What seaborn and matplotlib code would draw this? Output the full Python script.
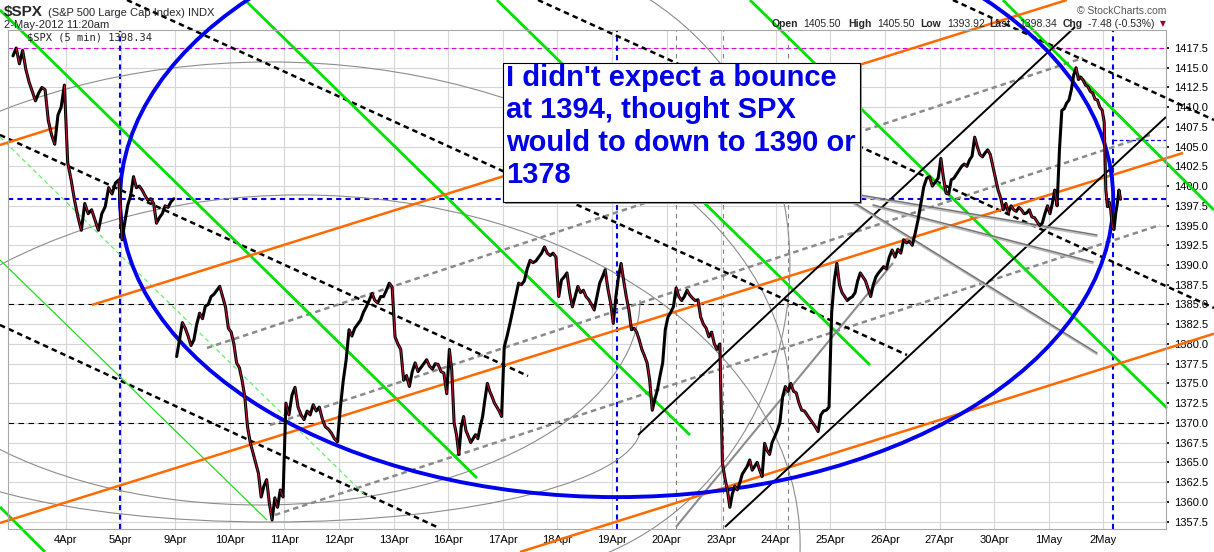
import numpy as np
import pandas as pd
import matplotlib
matplotlib.use("Agg")
import matplotlib.pyplot as plt
import matplotlib.transforms as mtransforms
from matplotlib.patches import Ellipse, Arc, Rectangle
from matplotlib.collections import LineCollection
import seaborn as sns

# ---------------- price data (5-min closes, one list per session)
d_apr03 = [1416.5, 1417.5, 1415.5, 1417.2, 1414.8, 1413.2, 1412.0, 1410.8, 1411.8, 1412.5,
           1412.2, 1408.3, 1406.5, 1405.3, 1409.0, 1410.0, 1412.8]
d_apr04 = [1403.0, 1400.8, 1398.2, 1396.1, 1394.4, 1397.8, 1396.5, 1397.0, 1395.7, 1394.4,
           1396.5, 1397.4, 1399.8, 1399.0, 1400.4, 1400.8]
d_apr05 = [1393.2, 1395.5, 1397.6, 1398.8, 1401.2, 1399.8, 1400.0, 1399.5, 1398.8, 1398.2,
           1398.4, 1397.8, 1395.3, 1396.0, 1396.5, 1397.5, 1397.3, 1398.0, 1398.4]
d_apr09 = [1378.4, 1380.5, 1382.7, 1382.0, 1381.0, 1379.8, 1380.5, 1382.5, 1383.9, 1383.2,
           1384.8, 1385.0, 1386.0, 1386.3, 1386.8, 1387.3, 1386.0, 1384.7, 1382.0]
d_apr10 = [1381.5, 1380.0, 1377.6, 1377.0, 1375.4, 1373.3, 1369.5, 1367.5, 1366.2, 1364.9,
           1363.6, 1360.6, 1362.0, 1362.8, 1359.8, 1357.7, 1360.5, 1359.3, 1361.5, 1360.6]
d_apr11 = [1372.5, 1371.0, 1373.5, 1374.5, 1372.0, 1371.0, 1370.4, 1371.5, 1371.0, 1372.3,
           1371.5, 1372.0, 1370.5, 1369.5, 1369.2, 1368.7, 1368.0, 1367.6]
d_apr12 = [1372.0, 1375.4, 1378.0, 1381.8, 1381.0, 1382.0, 1382.5, 1383.0, 1384.0, 1384.7,
           1385.5, 1386.4, 1385.5, 1385.2, 1386.0, 1386.0, 1386.8, 1387.7, 1387.2]
d_apr13 = [1380.9, 1380.0, 1379.3, 1375.4, 1376.0, 1374.6, 1376.5, 1377.6, 1376.5, 1377.0,
           1377.5, 1378.0, 1377.2, 1376.8, 1377.5, 1377.4, 1376.5, 1376.3, 1373.7]
d_apr16 = [1379.3, 1376.7, 1370.0, 1368.5, 1366.0, 1369.5, 1370.8, 1369.0, 1368.3, 1367.5,
           1368.0, 1368.5, 1368.0, 1369.5, 1370.8, 1373.0, 1375.0, 1374.0, 1373.3, 1372.5,
           1372.0, 1371.5, 1370.8]
d_apr17 = [1379.6, 1381.0, 1382.6, 1384.3, 1386.0, 1387.7, 1387.5, 1388.0, 1389.5, 1390.6,
           1390.3, 1390.5, 1391.0, 1391.5, 1392.3, 1391.5, 1391.2, 1391.5, 1391.0]
d_apr18 = [1386.0, 1388.1, 1388.5, 1389.0, 1386.5, 1384.7, 1386.0, 1387.3, 1386.5, 1386.8,
           1386.0, 1385.6, 1385.0, 1384.3, 1386.0, 1387.7, 1388.5, 1389.4, 1387.0, 1385.2]
d_apr19 = [1382.6, 1386.0, 1388.5, 1390.2, 1388.0, 1386.0, 1384.3, 1381.8, 1382.0, 1381.5,
           1380.5, 1379.3, 1378.5, 1377.6, 1375.4, 1371.6, 1373.0, 1374.2, 1376.0, 1377.6,
           1381.8]
d_apr20 = [1383.4, 1384.0, 1384.7, 1387.1, 1386.0, 1385.5, 1386.0, 1386.8, 1386.2, 1385.8,
           1385.5, 1385.6, 1383.4, 1382.5, 1382.0, 1380.9, 1381.5, 1380.0, 1379.3, 1380.0]
d_apr23 = [1364.9, 1363.0, 1361.5, 1359.3, 1361.0, 1362.0, 1361.5, 1362.4, 1363.5, 1364.0,
           1364.5, 1365.3, 1364.0, 1364.5, 1365.0, 1364.0, 1363.2, 1367.4, 1366.5, 1366.0,
           1367.5, 1368.2]
d_apr24 = [1369.0, 1370.0, 1373.3, 1374.6, 1374.0, 1375.0, 1374.0, 1373.8, 1372.5, 1371.6,
           1371.5, 1371.0, 1370.5, 1370.0, 1369.5, 1368.9, 1371.0, 1371.5, 1371.6, 1372.0]
d_apr25 = [1384.0, 1388.0, 1390.2, 1387.5, 1386.5, 1386.0, 1385.5, 1385.8, 1386.0, 1386.5,
           1388.0, 1389.0, 1388.5, 1388.0, 1387.0, 1386.0, 1387.5, 1388.5, 1389.0, 1389.4,
           1389.8]
d_apr26 = [1389.5, 1391.0, 1391.9, 1391.0, 1392.0, 1391.5, 1393.2, 1392.8, 1393.0, 1392.5,
           1394.0, 1395.7, 1397.8, 1399.9, 1401.0, 1401.2, 1400.0, 1400.5, 1401.0]
d_apr27 = [1403.5, 1401.0, 1399.1, 1399.0, 1400.8, 1401.0, 1401.5, 1402.0, 1402.5, 1402.8,
           1402.5, 1403.3, 1403.8, 1406.2, 1405.0, 1404.0, 1403.7, 1404.2, 1404.6, 1404.0,
           1402.5]
d_apr30 = [1401.0, 1399.5, 1398.5, 1397.0, 1397.8, 1396.6, 1397.5, 1397.0, 1396.8, 1397.3,
           1397.0, 1396.5, 1396.6, 1397.0, 1396.1, 1396.0, 1395.5, 1395.0, 1395.3, 1396.5,
           1397.5]
d_may01 = [1396.5, 1397.8, 1399.5, 1397.5, 1404.6, 1409.6, 1409.8, 1410.5, 1410.9, 1412.2,
           1414.1, 1415.0, 1413.5, 1413.8, 1413.4, 1412.8, 1412.6, 1412.0, 1411.8, 1411.0,
           1410.9, 1410.0, 1409.6]
d_may02 = [1408.1, 1399.5, 1397.4, 1398.0, 1397.0, 1394.8, 1394.5, 1396.5, 1397.8, 1399.5,
           1398.34]

sessions = [d_apr03, d_apr04, d_apr05, d_apr09, d_apr10, d_apr11, d_apr12, d_apr13,
            d_apr16, d_apr17, d_apr18, d_apr19, d_apr20, d_apr23, d_apr24, d_apr25,
            d_apr26, d_apr27, d_apr30, d_may01, d_may02]
day_labels = ['4Apr', '5Apr', '9Apr', '10Apr', '11Apr', '12Apr', '13Apr', '16Apr', '17Apr',
              '18Apr', '19Apr', '20Apr', '23Apr', '24Apr', '25Apr', '26Apr', '27Apr',
              '30Apr', '1May', '2May']
unjoined_sessions = [3]          # 9Apr (after Easter gap) not joined to 5Apr
last_session_fraction = 0.33     # 2May: chart stops at 11:20am

y_ticks = np.arange(1357.5, 1417.6, 2.5)

quote_open, quote_high, quote_low, quote_last = 1405.50, 1405.50, 1393.92, 1398.34
quote_chg, quote_chg_pct = -7.48, -0.53

note_text = "I didn't expect a bounce\nat 1394, thought SPX\nwould to down to 1390 or\n1378"

# ---------------- annotation drawings (x = session index, y = price)
green_thick = [((-0.209, 1422.32), (8.527, 1363.01)),
               ((4.278, 1423.58), (12.428, 1368.46)),
               ((8.894, 1423.58), (15.725, 1377.33)),
               ((13.527, 1423.58), (21.165, 1371.88)),
               ((18.16, 1423.58), (22.026, 1396.97)),
               ((-0.209, 1359.34), (0.615, 1353.64))]
green_thin = [((-0.209, 1390.64), (4.681, 1357.69))]
green_thin_dashed = [((-0.209, 1406.22), (6.513, 1360.61))]
orange_lines = [((-0.209, 1405.21), (0.835, 1407.49)),
                ((1.476, 1384.94), (19.33, 1423.58)),
                ((-0.209, 1357.31), (21.458, 1404.2)),
                ((9.315, 1353.64), (22.026, 1381.3))]
black_dashed = [((2.117, 1423.58), (16.403, 1378.6)),
                ((-0.209, 1406.48), (9.462, 1375.94)),
                ((-0.209, 1382.4), (7.795, 1356.81)),
                ((17.245, 1423.58), (22.026, 1408.38)),
                ((9.645, 1423.58), (22.026, 1384.56))]
grey_dashed = [((3.582, 1379.49), (19.626, 1416.23)),
               ((4.736, 1369.73), (20.853, 1406.48)),
               ((4.828, 1358.33), (21.037, 1395.07))]
black_solid = [((11.476, 1368.46), (19.48, 1420.16)),
               ((13.07, 1356.81), (21.147, 1408.76))]
grey_solid = [((12.172, 1356.81), (16.147, 1390.26))]
fan_lines = [((15.542, 1398.87), (19.883, 1393.8)),
             ((15.78, 1397.61), (19.81, 1390.38)),
             ((15.414, 1397.99), (19.883, 1378.85))]

magenta_level = 1417.5
blue_level = 1398.34
blue_short_level = (20.18, 1405.9)
black_levels = [1385.0, 1370.0]
blue_days = [1.99, 11.09, 20.18]
grey_days = [12.17, 13.03, 14.22]

blue_ellipse = dict(center=(11.085, 1398.34), width=18.19, height=75.5)
grey_arcs = [dict(center=(4.736, 1372.9), width=19.05, height=85.66, t1=0, t2=180),
             dict(center=(5.286, 1354.53), width=18.32, height=88.7, t1=0, t2=360),
             dict(center=(8.949, 1390.0), width=10.62, height=78.56, t1=-90, t2=90),
             dict(center=(4.736, 1369.6), width=13.59, height=24.33, t1=180, t2=360),
             dict(center=(4.553, 1385.57), width=13.92, height=51.95, t1=180, t2=360)]

# ---------------- build the price frame
rows = []
run = 0
for k, vals in enumerate(sessions):
    if k in unjoined_sessions:
        run += 1
    span = last_session_fraction if k == len(sessions) - 1 else 1.0
    n = len(vals)
    for i, v in enumerate(vals):
        rows.append((k + span * (i + 0.5) / n, v, run))
df = pd.DataFrame(rows, columns=['t', 'price', 'run'])

# ---------------- figure
sns.set_theme(style='white')
plt.rcParams['font.family'] = ['Liberation Sans', 'DejaVu Sans']

W, H = 1214, 552
fig = plt.figure(figsize=(W / 100, H / 100), dpi=100)
fig.patch.set_facecolor('white')
ax = fig.add_axes([8 / W, 1 - 529 / H, 1158 / W, 499 / H])
ax.set_facecolor('white')
ax.set_autoscale_on(False)
ax.set_xlim(-0.062, 21.147)
ax.set_ylim(1356.55, 1419.78)


def fx(px):
    return px / W


def fy(py):
    return 1 - py / H


def draw(lines, **kw):
    for (x0, y0), (x1, y1) in lines:
        ax.plot([x0, x1], [y0, y1], clip_on=False, solid_capstyle='butt', **kw)


# grid + axes styling
ax.set_xticks(np.arange(1, len(day_labels) + 1))
ax.set_xticklabels(day_labels)
ax.set_yticks(y_ticks)
ax.set_yticklabels([f'{v:.1f}' for v in y_ticks])
ax.yaxis.tick_right()
ax.grid(True, color='#d6d6d6', lw=0.8, zorder=0)
ax.set_axisbelow(True)
ax.tick_params(axis='x', length=0, labelsize=8, pad=4, colors='black')
ax.tick_params(axis='y', length=2, labelsize=8, pad=4, colors='black')
for s in ax.spines.values():
    s.set_color('#a8a8a8')
    s.set_linewidth(0.8)

# reference levels
ax.axhline(magenta_level, color='#dd00dd', lw=0.8, ls=(0, (4, 3)), zorder=1)
ax.axhline(blue_level, color='#0000ee', lw=1.5, ls=(0, (2.5, 2)), zorder=1)
ax.plot([blue_short_level[0], 21.147], [blue_short_level[1]] * 2, color='#0000ee', lw=0.9,
        ls=(0, (3, 2)), zorder=1)
for lv in black_levels:
    ax.axhline(lv, color='black', lw=0.8, ls=(0, (5, 4)), zorder=1)
for d in blue_days:
    ax.axvline(d, color='#0000ee', lw=1.5, ls=(0, (2.5, 2)), zorder=1)
for d in grey_days:
    ax.axvline(d, color='#808080', lw=0.8, ls=(0, (4, 4)), zorder=1)

# grey arcs
for a in grey_arcs:
    ax.add_patch(Arc(a['center'], a['width'], a['height'], theta1=a['t1'], theta2=a['t2'],
                     ec='#8c8c8c', lw=0.8, clip_on=False, zorder=1.5))

# drawn trend lines
draw(grey_dashed, color='#8a8a8a', lw=1.8, ls=(0, (2.2, 1.6)), zorder=2)
draw(black_dashed, color='black', lw=1.8, ls=(0, (2.2, 1.6)), zorder=2)
draw(green_thin, color='#22dd22', lw=0.9, zorder=2)
draw(green_thin_dashed, color='#55ee55', lw=0.8, ls=(0, (4, 3)), zorder=2)
draw(green_thick, color='#00e000', lw=2.0, zorder=2.2)
draw(orange_lines, color='#ff6a00', lw=1.8, zorder=2.2)
draw(black_solid, color='black', lw=1.4, zorder=2.3)
draw(grey_solid, color='#8c8c8c', lw=1.5, zorder=2.3)
off = mtransforms.offset_copy(ax.transData, fig=fig, x=0, y=-1.6, units='dots')
for (x0, y0), (x1, y1) in fan_lines:
    ax.plot([x0, x1], [y0, y1], color='#bdbdbd', lw=1.1, clip_on=False, transform=off, zorder=2.4)
    ax.plot([x0, x1], [y0, y1], color='#737373', lw=1.1, clip_on=False, zorder=2.5)

ax.add_patch(Ellipse(blue_ellipse['center'], blue_ellipse['width'], blue_ellipse['height'],
                     fill=False, ec='#0000ee', lw=2.8, clip_on=False, zorder=3))

# price path
sns.lineplot(data=df, x='t', y='price', units='run', estimator=None, color='black',
             linewidth=2.2, ax=ax, legend=False, zorder=5)
segs = []
for _, g in df.groupby('run'):
    tt = g['t'].to_numpy()
    pp = g['price'].to_numpy()
    for i in range(len(tt) - 1):
        if pp[i + 1] < pp[i]:
            segs.append([(tt[i], pp[i]), (tt[i + 1], pp[i + 1])])
ax.add_collection(LineCollection(segs, colors='#d0103a', linewidths=0.7, zorder=6))
ax.set_xlabel('')
ax.set_ylabel('')
ax.set_xlim(-0.062, 21.147)
ax.set_ylim(1356.55, 1419.78)

# legend text inside plot
ax.text(19 / 1158, 1 - 8 / 499, f'$SPX (5 min) {quote_last:.2f}',
        transform=ax.transAxes, fontsize=7.5, family='DejaVu Sans Mono', va='center',
        ha='left', zorder=7)

# header
fig.text(fx(4), fy(12), '$SPX', fontsize=11, fontweight='bold', va='center', ha='left')
fig.text(fx(48), fy(13), '(S&P 500 Large Cap Index) INDX', fontsize=8, va='center', ha='left')
fig.text(fx(4), fy(25), '2-May-2012 11:20am', fontsize=8, va='center', ha='left')
fig.text(fx(1166), fy(11), '\u00a9 StockCharts.com', fontsize=7.5, color='#555555',
         va='center', ha='right')
quote_parts = [('Open', 772, 'bold'), (f'{quote_open:.2f}', 803, 'normal'),
               ('High', 848, 'bold'), (f'{quote_high:.2f}', 877, 'normal'),
               ('Low', 920, 'bold'), (f'{quote_low:.2f}', 947, 'normal'),
               ('Last', 989, 'bold'), (f'{quote_last:.2f}', 1019, 'normal'),
               ('Chg', 1063, 'bold'), (f'{quote_chg:.2f} ({quote_chg_pct:.2f}%)', 1088, 'normal')]
for txt, px, wt in quote_parts:
    fig.text(fx(px), fy(24), txt, fontsize=7.5, fontweight=wt, va='center', ha='left')
fig.text(fx(1160), fy(24), '\u25bc', fontsize=5.5, color='#990033', va='center', ha='left',
         family=['DejaVu Sans'])

# note box
fig.add_artist(Rectangle((fx(505), fy(204)), 357 / W, 139 / H, transform=fig.transFigure,
                         fc='#9a9a9a', ec='none', zorder=20))
fig.add_artist(Rectangle((fx(503), fy(202)), 357 / W, 139 / H, transform=fig.transFigure,
                         fc='white', ec='black', lw=0.8, zorder=21))
fig.text(fx(506), fy(64), note_text, color='#0000e6', fontsize=21, fontweight='bold',
         va='top', ha='left', linespacing=1.2, zorder=22)

fig.savefig('out.png', dpi=100, facecolor='white')
